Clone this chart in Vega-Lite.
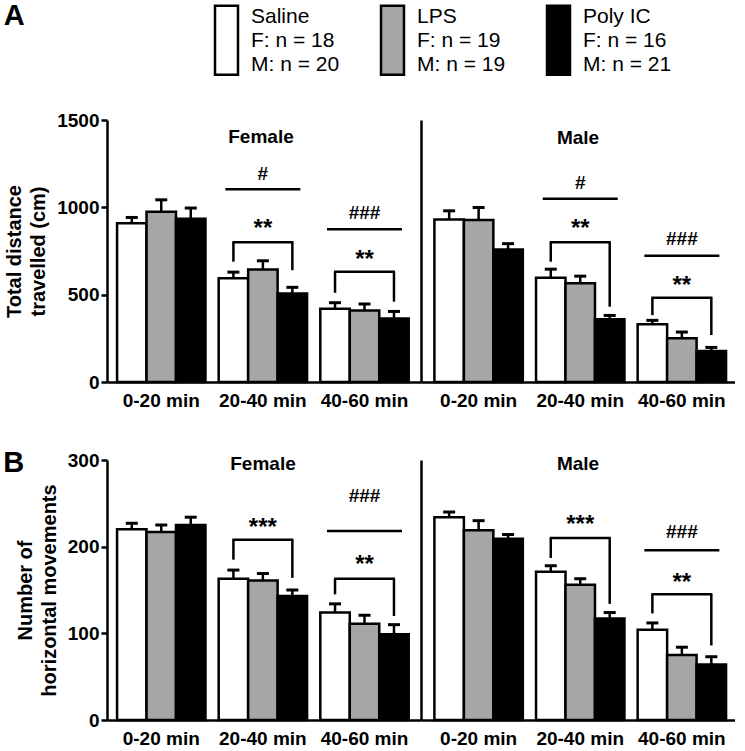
{
 "$schema": "https://vega.github.io/schema/vega-lite/v6.json",
 "padding": {"left": 3, "top": 2, "right": 0, "bottom": 0},
 "background": "white",
 "datasets": {
  "bars": [
   {"panel":"A","sex":"Female","interval":"0-20 min","treatment":"Saline","mean":909,"hi":942},
   {"panel":"A","sex":"Female","interval":"0-20 min","treatment":"LPS","mean":974,"hi":1043},
   {"panel":"A","sex":"Female","interval":"0-20 min","treatment":"Poly IC","mean":934,"hi":996},
   {"panel":"A","sex":"Female","interval":"20-40 min","treatment":"Saline","mean":594,"hi":629},
   {"panel":"A","sex":"Female","interval":"20-40 min","treatment":"LPS","mean":644,"hi":694},
   {"panel":"A","sex":"Female","interval":"20-40 min","treatment":"Poly IC","mean":507,"hi":542},
   {"panel":"A","sex":"Female","interval":"40-60 min","treatment":"Saline","mean":419,"hi":454},
   {"panel":"A","sex":"Female","interval":"40-60 min","treatment":"LPS","mean":409,"hi":446},
   {"panel":"A","sex":"Female","interval":"40-60 min","treatment":"Poly IC","mean":364,"hi":404},
   {"panel":"A","sex":"Male","interval":"0-20 min","treatment":"Saline","mean":931,"hi":980},
   {"panel":"A","sex":"Male","interval":"0-20 min","treatment":"LPS","mean":927,"hi":999},
   {"panel":"A","sex":"Male","interval":"0-20 min","treatment":"Poly IC","mean":759,"hi":792},
   {"panel":"A","sex":"Male","interval":"20-40 min","treatment":"Saline","mean":597,"hi":646},
   {"panel":"A","sex":"Male","interval":"20-40 min","treatment":"LPS","mean":566,"hi":606},
   {"panel":"A","sex":"Male","interval":"20-40 min","treatment":"Poly IC","mean":359,"hi":381},
   {"panel":"A","sex":"Male","interval":"40-60 min","treatment":"Saline","mean":330,"hi":353},
   {"panel":"A","sex":"Male","interval":"40-60 min","treatment":"LPS","mean":250,"hi":286},
   {"panel":"A","sex":"Male","interval":"40-60 min","treatment":"Poly IC","mean":177,"hi":198},
   {"panel":"B","sex":"Female","interval":"0-20 min","treatment":"Saline","mean":220,"hi":227},
   {"panel":"B","sex":"Female","interval":"0-20 min","treatment":"LPS","mean":217,"hi":225},
   {"panel":"B","sex":"Female","interval":"0-20 min","treatment":"Poly IC","mean":225,"hi":234},
   {"panel":"B","sex":"Female","interval":"20-40 min","treatment":"Saline","mean":163,"hi":173},
   {"panel":"B","sex":"Female","interval":"20-40 min","treatment":"LPS","mean":161,"hi":169},
   {"panel":"B","sex":"Female","interval":"20-40 min","treatment":"Poly IC","mean":143,"hi":150},
   {"panel":"B","sex":"Female","interval":"40-60 min","treatment":"Saline","mean":124,"hi":134},
   {"panel":"B","sex":"Female","interval":"40-60 min","treatment":"LPS","mean":111,"hi":121},
   {"panel":"B","sex":"Female","interval":"40-60 min","treatment":"Poly IC","mean":99,"hi":110},
   {"panel":"B","sex":"Male","interval":"0-20 min","treatment":"Saline","mean":234,"hi":240},
   {"panel":"B","sex":"Male","interval":"0-20 min","treatment":"LPS","mean":219,"hi":230},
   {"panel":"B","sex":"Male","interval":"0-20 min","treatment":"Poly IC","mean":209,"hi":214},
   {"panel":"B","sex":"Male","interval":"20-40 min","treatment":"Saline","mean":171,"hi":178},
   {"panel":"B","sex":"Male","interval":"20-40 min","treatment":"LPS","mean":156,"hi":163},
   {"panel":"B","sex":"Male","interval":"20-40 min","treatment":"Poly IC","mean":117,"hi":124},
   {"panel":"B","sex":"Male","interval":"40-60 min","treatment":"Saline","mean":104,"hi":112},
   {"panel":"B","sex":"Male","interval":"40-60 min","treatment":"LPS","mean":75,"hi":84},
   {"panel":"B","sex":"Male","interval":"40-60 min","treatment":"Poly IC","mean":64,"hi":73}
  ],
  "lines": [
   {"panel":"A","sex":"Female","interval":"20-40 min","kind":"wide","y":1103},
   {"panel":"A","sex":"Female","interval":"20-40 min","kind":"bracket","y":800},
   {"panel":"A","sex":"Female","interval":"40-60 min","kind":"wide","y":874},
   {"panel":"A","sex":"Female","interval":"40-60 min","kind":"bracket","y":631},
   {"panel":"A","sex":"Male","interval":"20-40 min","kind":"wide","y":1049},
   {"panel":"A","sex":"Male","interval":"20-40 min","kind":"bracket","y":800},
   {"panel":"A","sex":"Male","interval":"40-60 min","kind":"wide","y":723},
   {"panel":"A","sex":"Male","interval":"40-60 min","kind":"bracket","y":483},
   {"panel":"B","sex":"Female","interval":"20-40 min","kind":"bracket","y":208},
   {"panel":"B","sex":"Female","interval":"40-60 min","kind":"wide","y":218},
   {"panel":"B","sex":"Female","interval":"40-60 min","kind":"bracket","y":163},
   {"panel":"B","sex":"Male","interval":"20-40 min","kind":"bracket","y":210},
   {"panel":"B","sex":"Male","interval":"40-60 min","kind":"wide","y":196},
   {"panel":"B","sex":"Male","interval":"40-60 min","kind":"bracket","y":145}
  ],
  "legs": [
   {"panel":"A","sex":"Female","interval":"20-40 min","treatment":"Saline","y":689,"y2":800},
   {"panel":"A","sex":"Female","interval":"20-40 min","treatment":"Poly IC","y":640,"y2":800},
   {"panel":"A","sex":"Female","interval":"40-60 min","treatment":"Saline","y":511,"y2":631},
   {"panel":"A","sex":"Female","interval":"40-60 min","treatment":"Poly IC","y":460,"y2":631},
   {"panel":"A","sex":"Male","interval":"20-40 min","treatment":"Saline","y":689,"y2":800},
   {"panel":"A","sex":"Male","interval":"20-40 min","treatment":"Poly IC","y":431,"y2":800},
   {"panel":"A","sex":"Male","interval":"40-60 min","treatment":"Saline","y":383,"y2":483},
   {"panel":"A","sex":"Male","interval":"40-60 min","treatment":"Poly IC","y":269,"y2":483},
   {"panel":"B","sex":"Female","interval":"20-40 min","treatment":"Saline","y":185,"y2":208},
   {"panel":"B","sex":"Female","interval":"20-40 min","treatment":"Poly IC","y":164,"y2":208},
   {"panel":"B","sex":"Female","interval":"40-60 min","treatment":"Saline","y":145,"y2":163},
   {"panel":"B","sex":"Female","interval":"40-60 min","treatment":"Poly IC","y":120,"y2":163},
   {"panel":"B","sex":"Male","interval":"20-40 min","treatment":"Saline","y":187,"y2":210},
   {"panel":"B","sex":"Male","interval":"20-40 min","treatment":"Poly IC","y":134,"y2":210},
   {"panel":"B","sex":"Male","interval":"40-60 min","treatment":"Saline","y":123,"y2":145},
   {"panel":"B","sex":"Male","interval":"40-60 min","treatment":"Poly IC","y":86,"y2":145}
  ],
  "labels": [
   {"panel":"A","sex":"Female","interval":"20-40 min","label":"#","y":1191},
   {"panel":"A","sex":"Female","interval":"20-40 min","label":"**","y":912},
   {"panel":"A","sex":"Female","interval":"40-60 min","label":"###","y":965},
   {"panel":"A","sex":"Female","interval":"40-60 min","label":"**","y":733},
   {"panel":"A","sex":"Male","interval":"20-40 min","label":"#","y":1137},
   {"panel":"A","sex":"Male","interval":"20-40 min","label":"**","y":908},
   {"panel":"A","sex":"Male","interval":"40-60 min","label":"###","y":817},
   {"panel":"A","sex":"Male","interval":"40-60 min","label":"**","y":584},
   {"panel":"B","sex":"Female","interval":"20-40 min","label":"***","y":228},
   {"panel":"B","sex":"Female","interval":"40-60 min","label":"###","y":259},
   {"panel":"B","sex":"Female","interval":"40-60 min","label":"**","y":186},
   {"panel":"B","sex":"Male","interval":"20-40 min","label":"***","y":232},
   {"panel":"B","sex":"Male","interval":"40-60 min","label":"###","y":217},
   {"panel":"B","sex":"Male","interval":"40-60 min","label":"**","y":165}
  ]
 },
 "bounds": "flush",
 "spacing": 340,
 "vconcat": [
  {
   "title": {"text": "A", "anchor": "start", "fontSize": 29, "offset": 80, "dx": -1},
   "bounds": "flush",
   "spacing": 0,
   "resolve": {"scale": {"x": "independent", "y": "independent"}},
   "hconcat": [
    {
     "width": 314, "height": 262,
     "title": {"text": "Female", "frame": "group", "offset": -36, "dx": -3},
     "encoding": {"x": {"field": "interval", "type": "nominal", "scale": {"domain": ["0-20 min","20-40 min","40-60 min"], "paddingInner": 0.13, "paddingOuter": 0.11, "align": 0.45}, "axis": {"title": null}}},
     "layer": [
      {"data": {"name": "bars"}, "transform": [{"filter": "datum.panel==='A' && datum.sex==='Female'"}],
       "mark": {"type": "bar", "stroke": "black", "strokeWidth": 2.5},
       "encoding": {
        "xOffset": {"field": "treatment", "type": "nominal", "scale": {"domain": ["Saline","LPS","Poly IC"], "paddingInner": 0, "paddingOuter": 0}},
        "y": {"field": "mean", "type": "quantitative", "scale": {"domain": [0,1500], "nice": false}, "axis": {"values": [0,500,1000,1500], "format": "d", "title": ["Total distance","travelled (cm)"]}},
        "fill": {"field": "treatment", "type": "nominal", "scale": {"domain": ["Saline","LPS","Poly IC"], "range": ["white","#a6a6a6","black"]},
          "legend": {"orient": "none", "legendX": 107, "legendY": -116, "direction": "horizontal", "title": null, "symbolType": "M-1.045,-1H1.045V5.27H-1.045Z", "symbolSize": 484, "symbolStrokeColor": "black", "symbolStrokeWidth": 2.5, "labelFontSize": 21, "labelFontWeight": "normal", "labelColor": "black", "labelOffset": 12, "labelLimit": 300, "columnPadding": 36,
           "encode": {"labels": {"update": {"lineHeight": {"value": 24}}}},
           "labelExpr": "datum.label == 'Saline' ? ['Saline',' F: n = 18','M: n = 20'] : datum.label == 'LPS' ? ['LPS','F: n = 19','M: n = 19'] : ['Poly IC','F: n = 16','M: n = 21']"}}
       }},
      {"data": {"name": "bars"}, "transform": [{"filter": "datum.panel==='A' && datum.sex==='Female'"}],
       "mark": {"type": "rule", "strokeWidth": 2.5, "color": "black"},
       "encoding": {"xOffset": {"field": "treatment", "type": "nominal"}, "y": {"field": "mean", "type": "quantitative", "scale": {"domain": [0,1500]}}, "y2": {"field": "hi"}}},
      {"data": {"name": "bars"}, "transform": [{"filter": "datum.panel==='A' && datum.sex==='Female'"}],
       "mark": {"type": "tick", "color": "black", "thickness": 3, "size": 12, "opacity": 1},
       "encoding": {"xOffset": {"field": "treatment", "type": "nominal"}, "y": {"field": "hi", "type": "quantitative", "scale": {"domain": [0,1500]}}}},
      {"data": {"name": "lines"}, "transform": [{"filter": "datum.panel==='A' && datum.sex==='Female' && datum.kind==='wide'"}],
       "mark": {"type": "tick", "color": "black", "thickness": 2.5, "size": 75, "opacity": 1},
       "encoding": {"y": {"field": "y", "type": "quantitative", "scale": {"domain": [0,1500]}}}},
      {"data": {"name": "lines"}, "transform": [{"filter": "datum.panel==='A' && datum.sex==='Female' && datum.kind==='bracket'"}],
       "mark": {"type": "tick", "color": "black", "thickness": 2.5, "size": 61, "opacity": 1},
       "encoding": {"y": {"field": "y", "type": "quantitative", "scale": {"domain": [0,1500]}}}},
      {"data": {"name": "legs"}, "transform": [{"filter": "datum.panel==='A' && datum.sex==='Female'"}],
       "mark": {"type": "rule", "strokeWidth": 2.5, "color": "black"},
       "encoding": {"xOffset": {"field": "treatment", "type": "nominal"}, "y": {"field": "y", "type": "quantitative", "scale": {"domain": [0,1500]}}, "y2": {"field": "y2"}}},
      {"data": {"name": "labels"}, "transform": [{"filter": "datum.panel==='A' && datum.sex==='Female' && !test(/[*]/, datum.label)"}],
       "mark": {"type": "text", "fontWeight": "bold", "fontSize": 19, "baseline": "middle", "color": "black"},
       "encoding": {"y": {"field": "y", "type": "quantitative", "scale": {"domain": [0,1500]}}, "text": {"field": "label"}}},
      {"data": {"name": "labels"}, "transform": [{"filter": "datum.panel==='A' && datum.sex==='Female' && test(/[*]/, datum.label)"}],
       "mark": {"type": "text", "fontWeight": "bold", "fontSize": 24, "baseline": "middle", "dy": 6, "color": "black"},
       "encoding": {"y": {"field": "y", "type": "quantitative", "scale": {"domain": [0,1500]}}, "text": {"field": "label"}}}
     ]
    },
    {
     "width": 314, "height": 262,
     "title": {"text": "Male", "frame": "group", "offset": -28},
     "encoding": {"x": {"field": "interval", "type": "nominal", "scale": {"domain": ["0-20 min","20-40 min","40-60 min"], "paddingInner": 0.13, "paddingOuter": 0.11, "align": 0.6}, "axis": {"title": null}}},
     "layer": [
      {"data": {"name": "bars"}, "transform": [{"filter": "datum.panel==='A' && datum.sex==='Male'"}],
       "mark": {"type": "bar", "stroke": "black", "strokeWidth": 2.5},
       "encoding": {
        "xOffset": {"field": "treatment", "type": "nominal", "scale": {"domain": ["Saline","LPS","Poly IC"], "paddingInner": 0, "paddingOuter": 0}},
        "y": {"field": "mean", "type": "quantitative", "scale": {"domain": [0,1500], "nice": false}, "axis": {"labels": false, "ticks": false, "title": null}},
        "fill": {"field": "treatment", "type": "nominal", "scale": {"domain": ["Saline","LPS","Poly IC"], "range": ["white","#a6a6a6","black"]},
          "legend": {"orient": "none", "legendX": 107, "legendY": -116, "direction": "horizontal", "title": null, "symbolType": "M-1.045,-1H1.045V5.27H-1.045Z", "symbolSize": 484, "symbolStrokeColor": "black", "symbolStrokeWidth": 2.5, "labelFontSize": 21, "labelFontWeight": "normal", "labelColor": "black", "labelOffset": 12, "labelLimit": 300, "columnPadding": 36,
           "encode": {"labels": {"update": {"lineHeight": {"value": 24}}}},
           "labelExpr": "datum.label == 'Saline' ? ['Saline',' F: n = 18','M: n = 20'] : datum.label == 'LPS' ? ['LPS','F: n = 19','M: n = 19'] : ['Poly IC','F: n = 16','M: n = 21']"}}
       }},
      {"data": {"name": "bars"}, "transform": [{"filter": "datum.panel==='A' && datum.sex==='Male'"}],
       "mark": {"type": "rule", "strokeWidth": 2.5, "color": "black"},
       "encoding": {"xOffset": {"field": "treatment", "type": "nominal"}, "y": {"field": "mean", "type": "quantitative", "scale": {"domain": [0,1500]}}, "y2": {"field": "hi"}}},
      {"data": {"name": "bars"}, "transform": [{"filter": "datum.panel==='A' && datum.sex==='Male'"}],
       "mark": {"type": "tick", "color": "black", "thickness": 3, "size": 12, "opacity": 1},
       "encoding": {"xOffset": {"field": "treatment", "type": "nominal"}, "y": {"field": "hi", "type": "quantitative", "scale": {"domain": [0,1500]}}}},
      {"data": {"name": "lines"}, "transform": [{"filter": "datum.panel==='A' && datum.sex==='Male' && datum.kind==='wide'"}],
       "mark": {"type": "tick", "color": "black", "thickness": 2.5, "size": 75, "opacity": 1},
       "encoding": {"y": {"field": "y", "type": "quantitative", "scale": {"domain": [0,1500]}}}},
      {"data": {"name": "lines"}, "transform": [{"filter": "datum.panel==='A' && datum.sex==='Male' && datum.kind==='bracket'"}],
       "mark": {"type": "tick", "color": "black", "thickness": 2.5, "size": 61, "opacity": 1},
       "encoding": {"y": {"field": "y", "type": "quantitative", "scale": {"domain": [0,1500]}}}},
      {"data": {"name": "legs"}, "transform": [{"filter": "datum.panel==='A' && datum.sex==='Male'"}],
       "mark": {"type": "rule", "strokeWidth": 2.5, "color": "black"},
       "encoding": {"xOffset": {"field": "treatment", "type": "nominal"}, "y": {"field": "y", "type": "quantitative", "scale": {"domain": [0,1500]}}, "y2": {"field": "y2"}}},
      {"data": {"name": "labels"}, "transform": [{"filter": "datum.panel==='A' && datum.sex==='Male' && !test(/[*]/, datum.label)"}],
       "mark": {"type": "text", "fontWeight": "bold", "fontSize": 19, "baseline": "middle", "color": "black"},
       "encoding": {"y": {"field": "y", "type": "quantitative", "scale": {"domain": [0,1500]}}, "text": {"field": "label"}}},
      {"data": {"name": "labels"}, "transform": [{"filter": "datum.panel==='A' && datum.sex==='Male' && test(/[*]/, datum.label)"}],
       "mark": {"type": "text", "fontWeight": "bold", "fontSize": 24, "baseline": "middle", "dy": 6, "color": "black"},
       "encoding": {"y": {"field": "y", "type": "quantitative", "scale": {"domain": [0,1500]}}, "text": {"field": "label"}}}
     ]
    }
   ]
  },
  {
   "title": {"text": "B", "anchor": "start", "fontSize": 29, "offset": -27, "dx": -12},
   "bounds": "flush",
   "spacing": 0,
   "resolve": {"scale": {"x": "independent", "y": "independent"}},
   "hconcat": [
    {
     "width": 314, "height": 260,
     "title": {"text": "Female", "frame": "group", "offset": -23, "dx": -1},
     "encoding": {"x": {"field": "interval", "type": "nominal", "scale": {"domain": ["0-20 min","20-40 min","40-60 min"], "paddingInner": 0.13, "paddingOuter": 0.11, "align": 0.45}, "axis": {"title": null}}},
     "layer": [
      {"data": {"name": "bars"}, "transform": [{"filter": "datum.panel==='B' && datum.sex==='Female'"}],
       "mark": {"type": "bar", "stroke": "black", "strokeWidth": 2.5},
       "encoding": {
        "xOffset": {"field": "treatment", "type": "nominal", "scale": {"domain": ["Saline","LPS","Poly IC"], "paddingInner": 0, "paddingOuter": 0}},
        "y": {"field": "mean", "type": "quantitative", "scale": {"domain": [0,300], "nice": false}, "axis": {"values": [0,100,200,300], "format": "d", "title": ["Number of","horizontal movements"]}},
        "fill": {"field": "treatment", "type": "nominal", "scale": {"domain": ["Saline","LPS","Poly IC"], "range": ["white","#a6a6a6","black"]},
          "legend": {"orient": "none", "legendX": 107, "legendY": -116, "direction": "horizontal", "title": null, "symbolType": "M-1.045,-1H1.045V5.27H-1.045Z", "symbolSize": 484, "symbolStrokeColor": "black", "symbolStrokeWidth": 2.5, "labelFontSize": 21, "labelFontWeight": "normal", "labelColor": "black", "labelOffset": 12, "labelLimit": 300, "columnPadding": 36,
           "encode": {"labels": {"update": {"lineHeight": {"value": 24}}}},
           "labelExpr": "datum.label == 'Saline' ? ['Saline',' F: n = 18','M: n = 20'] : datum.label == 'LPS' ? ['LPS','F: n = 19','M: n = 19'] : ['Poly IC','F: n = 16','M: n = 21']"}}
       }},
      {"data": {"name": "bars"}, "transform": [{"filter": "datum.panel==='B' && datum.sex==='Female'"}],
       "mark": {"type": "rule", "strokeWidth": 2.5, "color": "black"},
       "encoding": {"xOffset": {"field": "treatment", "type": "nominal"}, "y": {"field": "mean", "type": "quantitative", "scale": {"domain": [0,300]}}, "y2": {"field": "hi"}}},
      {"data": {"name": "bars"}, "transform": [{"filter": "datum.panel==='B' && datum.sex==='Female'"}],
       "mark": {"type": "tick", "color": "black", "thickness": 3, "size": 12, "opacity": 1},
       "encoding": {"xOffset": {"field": "treatment", "type": "nominal"}, "y": {"field": "hi", "type": "quantitative", "scale": {"domain": [0,300]}}}},
      {"data": {"name": "lines"}, "transform": [{"filter": "datum.panel==='B' && datum.sex==='Female' && datum.kind==='wide'"}],
       "mark": {"type": "tick", "color": "black", "thickness": 2.5, "size": 75, "opacity": 1},
       "encoding": {"y": {"field": "y", "type": "quantitative", "scale": {"domain": [0,300]}}}},
      {"data": {"name": "lines"}, "transform": [{"filter": "datum.panel==='B' && datum.sex==='Female' && datum.kind==='bracket'"}],
       "mark": {"type": "tick", "color": "black", "thickness": 2.5, "size": 61, "opacity": 1},
       "encoding": {"y": {"field": "y", "type": "quantitative", "scale": {"domain": [0,300]}}}},
      {"data": {"name": "legs"}, "transform": [{"filter": "datum.panel==='B' && datum.sex==='Female'"}],
       "mark": {"type": "rule", "strokeWidth": 2.5, "color": "black"},
       "encoding": {"xOffset": {"field": "treatment", "type": "nominal"}, "y": {"field": "y", "type": "quantitative", "scale": {"domain": [0,300]}}, "y2": {"field": "y2"}}},
      {"data": {"name": "labels"}, "transform": [{"filter": "datum.panel==='B' && datum.sex==='Female' && !test(/[*]/, datum.label)"}],
       "mark": {"type": "text", "fontWeight": "bold", "fontSize": 19, "baseline": "middle", "color": "black"},
       "encoding": {"y": {"field": "y", "type": "quantitative", "scale": {"domain": [0,300]}}, "text": {"field": "label"}}},
      {"data": {"name": "labels"}, "transform": [{"filter": "datum.panel==='B' && datum.sex==='Female' && test(/[*]/, datum.label)"}],
       "mark": {"type": "text", "fontWeight": "bold", "fontSize": 24, "baseline": "middle", "dy": 6, "color": "black"},
       "encoding": {"y": {"field": "y", "type": "quantitative", "scale": {"domain": [0,300]}}, "text": {"field": "label"}}}
     ]
    },
    {
     "width": 314, "height": 260,
     "title": {"text": "Male", "frame": "group", "offset": -14},
     "encoding": {"x": {"field": "interval", "type": "nominal", "scale": {"domain": ["0-20 min","20-40 min","40-60 min"], "paddingInner": 0.13, "paddingOuter": 0.11, "align": 0.6}, "axis": {"title": null}}},
     "layer": [
      {"data": {"name": "bars"}, "transform": [{"filter": "datum.panel==='B' && datum.sex==='Male'"}],
       "mark": {"type": "bar", "stroke": "black", "strokeWidth": 2.5},
       "encoding": {
        "xOffset": {"field": "treatment", "type": "nominal", "scale": {"domain": ["Saline","LPS","Poly IC"], "paddingInner": 0, "paddingOuter": 0}},
        "y": {"field": "mean", "type": "quantitative", "scale": {"domain": [0,300], "nice": false}, "axis": {"labels": false, "ticks": false, "title": null}},
        "fill": {"field": "treatment", "type": "nominal", "scale": {"domain": ["Saline","LPS","Poly IC"], "range": ["white","#a6a6a6","black"]},
          "legend": {"orient": "none", "legendX": 107, "legendY": -116, "direction": "horizontal", "title": null, "symbolType": "M-1.045,-1H1.045V5.27H-1.045Z", "symbolSize": 484, "symbolStrokeColor": "black", "symbolStrokeWidth": 2.5, "labelFontSize": 21, "labelFontWeight": "normal", "labelColor": "black", "labelOffset": 12, "labelLimit": 300, "columnPadding": 36,
           "encode": {"labels": {"update": {"lineHeight": {"value": 24}}}},
           "labelExpr": "datum.label == 'Saline' ? ['Saline',' F: n = 18','M: n = 20'] : datum.label == 'LPS' ? ['LPS','F: n = 19','M: n = 19'] : ['Poly IC','F: n = 16','M: n = 21']"}}
       }},
      {"data": {"name": "bars"}, "transform": [{"filter": "datum.panel==='B' && datum.sex==='Male'"}],
       "mark": {"type": "rule", "strokeWidth": 2.5, "color": "black"},
       "encoding": {"xOffset": {"field": "treatment", "type": "nominal"}, "y": {"field": "mean", "type": "quantitative", "scale": {"domain": [0,300]}}, "y2": {"field": "hi"}}},
      {"data": {"name": "bars"}, "transform": [{"filter": "datum.panel==='B' && datum.sex==='Male'"}],
       "mark": {"type": "tick", "color": "black", "thickness": 3, "size": 12, "opacity": 1},
       "encoding": {"xOffset": {"field": "treatment", "type": "nominal"}, "y": {"field": "hi", "type": "quantitative", "scale": {"domain": [0,300]}}}},
      {"data": {"name": "lines"}, "transform": [{"filter": "datum.panel==='B' && datum.sex==='Male' && datum.kind==='wide'"}],
       "mark": {"type": "tick", "color": "black", "thickness": 2.5, "size": 75, "opacity": 1},
       "encoding": {"y": {"field": "y", "type": "quantitative", "scale": {"domain": [0,300]}}}},
      {"data": {"name": "lines"}, "transform": [{"filter": "datum.panel==='B' && datum.sex==='Male' && datum.kind==='bracket'"}],
       "mark": {"type": "tick", "color": "black", "thickness": 2.5, "size": 61, "opacity": 1},
       "encoding": {"y": {"field": "y", "type": "quantitative", "scale": {"domain": [0,300]}}}},
      {"data": {"name": "legs"}, "transform": [{"filter": "datum.panel==='B' && datum.sex==='Male'"}],
       "mark": {"type": "rule", "strokeWidth": 2.5, "color": "black"},
       "encoding": {"xOffset": {"field": "treatment", "type": "nominal"}, "y": {"field": "y", "type": "quantitative", "scale": {"domain": [0,300]}}, "y2": {"field": "y2"}}},
      {"data": {"name": "labels"}, "transform": [{"filter": "datum.panel==='B' && datum.sex==='Male' && !test(/[*]/, datum.label)"}],
       "mark": {"type": "text", "fontWeight": "bold", "fontSize": 19, "baseline": "middle", "color": "black"},
       "encoding": {"y": {"field": "y", "type": "quantitative", "scale": {"domain": [0,300]}}, "text": {"field": "label"}}},
      {"data": {"name": "labels"}, "transform": [{"filter": "datum.panel==='B' && datum.sex==='Male' && test(/[*]/, datum.label)"}],
       "mark": {"type": "text", "fontWeight": "bold", "fontSize": 24, "baseline": "middle", "dy": 6, "color": "black"},
       "encoding": {"y": {"field": "y", "type": "quantitative", "scale": {"domain": [0,300]}}, "text": {"field": "label"}}}
     ]
    }
   ]
  }
 ],
 "config": {
  "font": "Liberation Sans",
  "view": {"stroke": null},
  "title": {"color": "black", "fontSize": 19, "fontWeight": "bold"},
  "axis": {"grid": false, "domainColor": "black", "domainWidth": 2.5, "tickColor": "black", "tickWidth": 2.5, "labelColor": "black", "labelFontWeight": "bold", "labelFontSize": 19, "titleColor": "black", "titleFontWeight": "bold", "titleFontSize": 20, "titleLineHeight": 24},
  "axisX": {"ticks": false, "tickSize": 0, "labelPadding": 9, "labelAngle": 0},
  "axisY": {"tickSize": 6, "labelPadding": 2, "titlePadding": 8}
 }
}
